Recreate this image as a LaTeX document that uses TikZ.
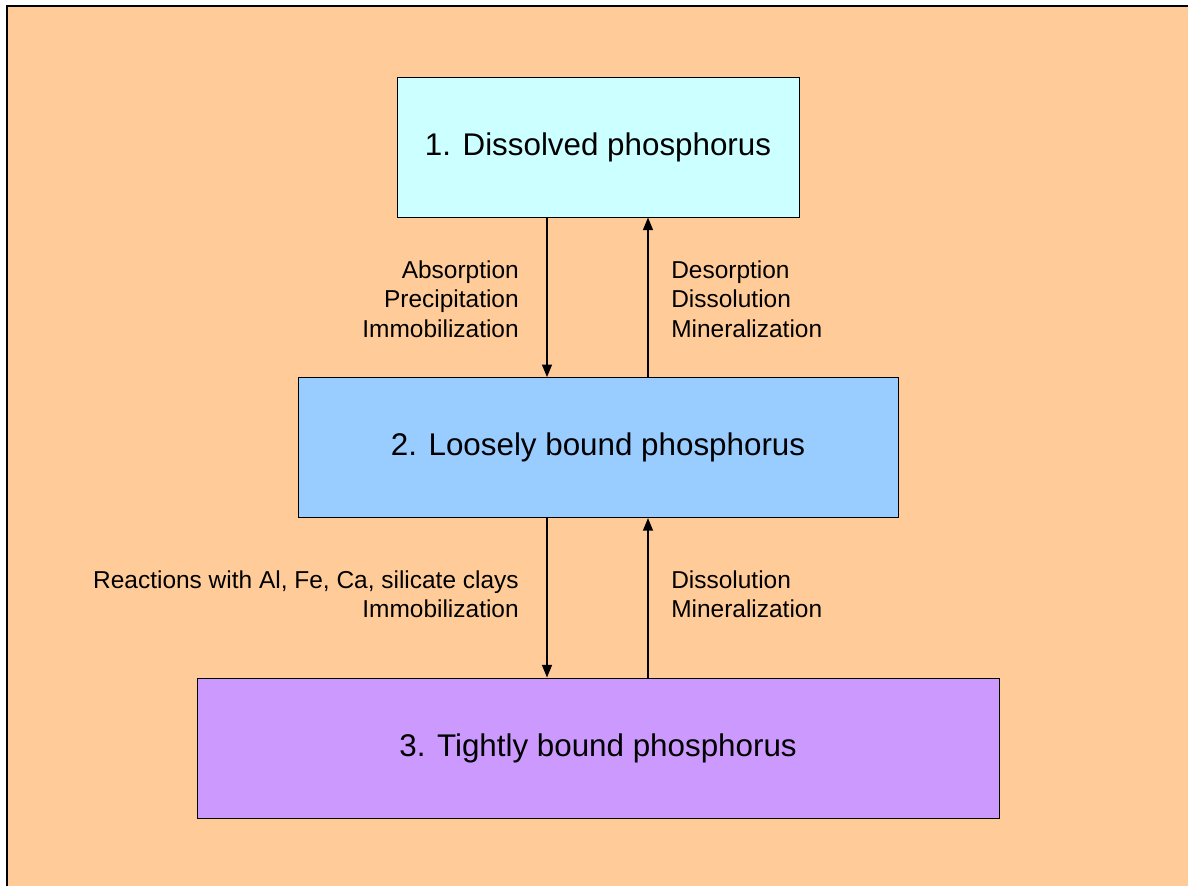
\documentclass[tikz,border=0pt]{standalone}
\usepackage{fontspec}
\setmainfont{Liberation Sans}
\usetikzlibrary{arrows.meta}
\definecolor{peach}{HTML}{FFCC99}
\definecolor{dissolved}{HTML}{CCFFFF}
\definecolor{loose}{HTML}{99CCFF}
\definecolor{tight}{HTML}{CC99FF}
\tikzset{
  pool/.style={draw,line width=0.6pt,rectangle,minimum height=3.5cm,font=\fontsize{22.3}{26}\selectfont},
  process/.style={inner sep=0pt,font=\fontsize{17.4}{20.9}\selectfont},
  flow/.style={line width=1.3pt,-{Triangle[length=9pt,width=7pt]}}
}
\begin{document}
\begin{tikzpicture}
\useasboundingbox (0,0) rectangle (29.7,-22.15);
\fill[peach] (0.175,-0.15) rectangle (29.7,-22.15);
\draw[line width=0.8pt] (0.175,-22.15) -- (0.175,-0.15) -- (29.7,-0.15);
\node[pool,fill=dissolved,minimum width=10.05cm] (dp) at (14.95,-3.675) {1. Dissolved phosphorus};
\node[pool,fill=loose,minimum width=15cm] (lp) at (14.95,-11.19) {2. Loosely bound phosphorus};
\node[pool,fill=tight,minimum width=20.05cm] (tp) at (14.95,-18.7) {3. Tightly bound phosphorus};
% dissolved <-> loosely bound
\draw[flow] ([xshift=-1.275cm]dp.south) -- ([xshift=-1.275cm]lp.north);
\draw[flow] ([xshift=1.25cm]lp.north) -- ([xshift=1.25cm]dp.south);
\node[process,anchor=east,align=right] (fix1) at (12.975,-7.475) {Absorption\\Precipitation\\Immobilization};
\node[process,anchor=west,align=left] (rel1) at (16.775,-7.475) {Desorption\\Dissolution\\Mineralization};
% loosely bound <-> tightly bound
\draw[flow] ([xshift=-1.275cm]lp.south) -- ([xshift=-1.275cm]tp.north);
\draw[flow] ([xshift=1.25cm]tp.north) -- ([xshift=1.25cm]lp.south);
\node[process,anchor=east,align=right] (fix2) at (12.975,-14.86) {Reactions with Al, Fe, Ca, silicate clays\\Immobilization};
\node[process,anchor=west,align=left] (rel2) at (16.775,-14.86) {Dissolution\\Mineralization};
\end{tikzpicture}
\end{document}
